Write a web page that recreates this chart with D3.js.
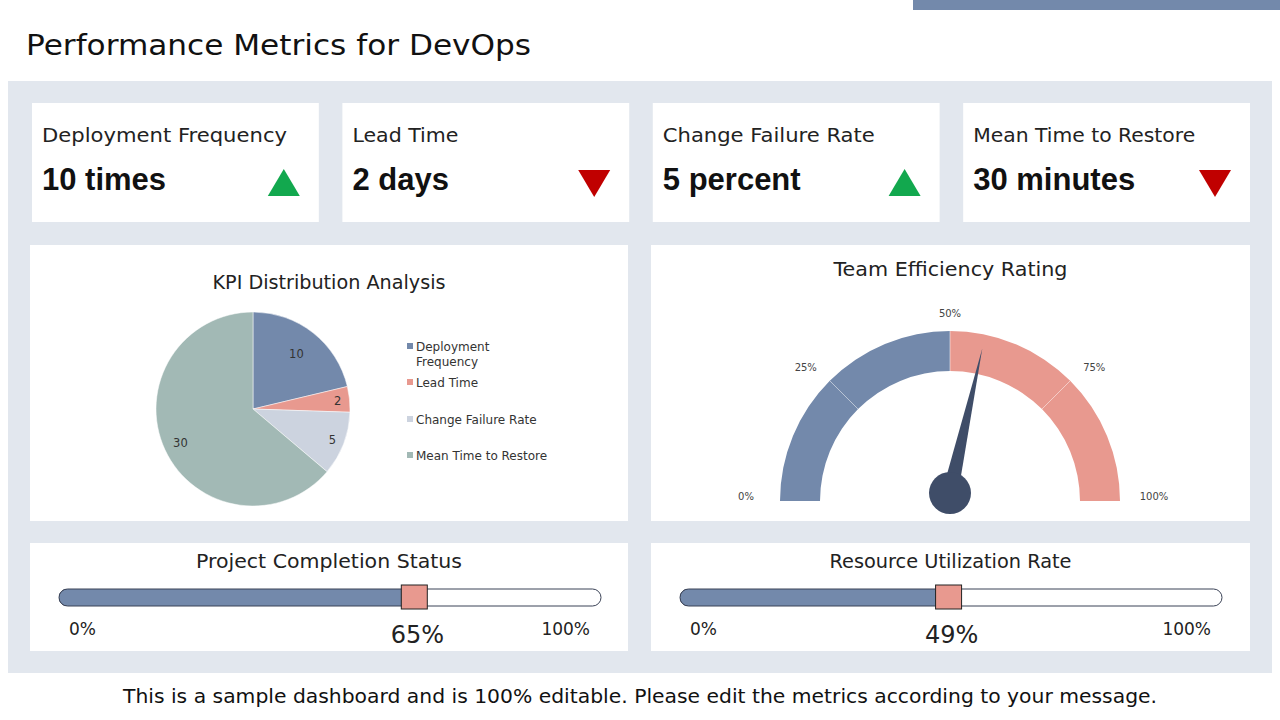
<!DOCTYPE html>
<html>
<head>
<meta charset="utf-8">
<script src="https://cdn.jsdelivr.net/npm/d3@7"></script>
<style>
  body { margin: 0; background: #fff; }
  text { font-family: "DejaVu Sans", sans-serif; }
</style>
</head>
<body>
<div id="chart"></div>
<script>
const kpiNames = ["Deployment Frequency", "Lead Time", "Change Failure Rate", "Mean Time to Restore"];
const kpiValues = [10, 2, 5, 30];
const kpiUnits = ["times", "days", "percent", "minutes"];
const kpiTrend = ["up", "down", "up", "down"];
const pieLegend = [["Deployment", "Frequency"], ["Lead Time"], ["Change Failure Rate"], ["Mean Time to Restore"]];
const gaugeTicks = [0, 25, 50, 75, 100];
const efficiency = 57;
const progressNames = ["Project Completion Status", "Resource Utilization Rate"];
const progressValues = [65, 49];

const colors = ["#7389ab", "#e8998f", "#ccd3df", "#a2b9b5"];
const dark = "#3f4d68";
const W = 1280, H = 720;

const svg = d3.select("#chart").append("svg")
    .attr("width", W).attr("height", H);

// header
svg.append("rect").attr("x", 913).attr("y", 0).attr("width", 367).attr("height", 10).attr("fill", "#7389ab");
svg.append("text").attr("x", 26).attr("y", 55)
    .attr("font-size", 29).attr("fill", "#111")
    .attr("textLength", 505).attr("lengthAdjust", "spacingAndGlyphs")
    .text("Performance Metrics for DevOps");

svg.append("rect").attr("x", 8).attr("y", 81).attr("width", 1264).attr("height", 592).attr("fill", "#e2e7ee");

// KPI cards
const cardX = d3.scaleBand().domain(d3.range(4)).range([32, 1250]).paddingInner(0.076).paddingOuter(0);
const labelLen = [245, 106, 212, 222];
const cards = svg.selectAll("g.card").data(kpiNames).join("g")
    .attr("class", "card")
    .attr("transform", (d, i) => `translate(${cardX(i)},103)`);
cards.append("rect").attr("width", cardX.bandwidth()).attr("height", 119).attr("fill", "#fff");
cards.append("text").attr("x", 10).attr("y", 39).attr("font-size", 20).attr("fill", "#222")
    .attr("textLength", (d, i) => labelLen[i]).attr("lengthAdjust", "spacingAndGlyphs")
    .text(d => d);
cards.append("text").attr("x", 10).attr("y", 87).attr("font-size", 31).attr("font-weight", "bold")
    .style("font-family", "'Liberation Sans', Arial, sans-serif").attr("fill", "#111")
    .text((d, i) => kpiValues[i] + " " + kpiUnits[i]);
cards.append("path")
    .attr("transform", `translate(${cardX.bandwidth() - 35},80)`)
    .attr("d", (d, i) => kpiTrend[i] === "up" ? "M-16,13L0,-14L16,13Z" : "M-16,-13L0,14L16,-13Z")
    .attr("fill", (d, i) => kpiTrend[i] === "up" ? "#12a84e" : "#c00000");

// panels
function panel(x, y, w, h, title, ty, tl) {
  const g = svg.append("g").attr("transform", `translate(${x},${y})`);
  g.append("rect").attr("width", w).attr("height", h).attr("fill", "#fff");
  g.append("text").attr("x", w / 2).attr("y", ty).attr("text-anchor", "middle")
      .attr("font-size", 20).attr("fill", "#222")
      .attr("textLength", tl).attr("lengthAdjust", "spacingAndGlyphs")
      .text(title);
  return g;
}

// pie
const pieG = panel(30, 245, 598, 276, "KPI Distribution Analysis", 44, 233);
const pie = d3.pie().sort(null).value(d => d)(kpiValues);
const arc = d3.arc().innerRadius(0).outerRadius(97);
const pc = pieG.append("g").attr("transform", "translate(223,164)");
pc.selectAll("path").data(pie).join("path")
    .attr("d", arc).attr("fill", (d, i) => colors[i]).attr("stroke", "#fff").attr("stroke-width", 0.5);
const labelR = [70, 85, 85, 80];
pc.selectAll("text").data(pie).join("text")
    .attr("transform", (d, i) => `translate(${d3.arc().innerRadius(labelR[i]).outerRadius(labelR[i]).centroid(d)})`)
    .attr("text-anchor", "middle").attr("dy", "0.35em")
    .attr("font-size", 11.5).attr("fill", "#333")
    .text(d => d.data);

const legY = [102, 138, 175, 211];
const leg = pieG.selectAll("g.leg").data(pieLegend).join("g")
    .attr("class", "leg")
    .attr("transform", (d, i) => `translate(377,${legY[i]})`);
leg.append("rect").attr("x", 0).attr("y", -4).attr("width", 6).attr("height", 6).attr("fill", (d, i) => colors[i]);
leg.selectAll("text").data(d => d).join("text")
    .attr("x", 9).attr("y", (d, j) => j * 15 + 4)
    .attr("font-size", 12).attr("fill", "#333").text(d => d);

// gauge
const gaugeG = panel(651, 245, 599, 276, "Team Efficiency Rating", 31, 234);
const gc = gaugeG.append("g").attr("transform", "translate(299,256)");
const ang = d3.scaleLinear().domain([0, 100]).range([-Math.PI / 2, Math.PI / 2]);
const gArc = d3.arc().innerRadius(130).outerRadius(170);
gc.append("path").attr("d", gArc({startAngle: ang(0), endAngle: ang(50)})).attr("fill", colors[0]);
gc.append("path").attr("d", gArc({startAngle: ang(50), endAngle: ang(100)})).attr("fill", colors[1]);
gc.selectAll("line.sep").data([25, 50, 75]).join("line")
    .attr("x1", d => 130 * Math.sin(ang(d))).attr("y1", d => -130 * Math.cos(ang(d)))
    .attr("x2", d => 170 * Math.sin(ang(d))).attr("y2", d => -170 * Math.cos(ang(d)))
    .attr("stroke", "#fff").attr("stroke-opacity", 0.5).attr("stroke-width", 1);
gc.selectAll("text").data(gaugeTicks).join("text")
    .attr("x", d => 204 * Math.sin(ang(d)))
    .attr("y", d => -183 * Math.cos(ang(d)) - 1)
    .attr("text-anchor", "middle").attr("font-size", 10).attr("fill", "#444")
    .text(d => d + "%");
const na = ang(efficiency);
const tipR = 148, baseW = 8;
const nx = Math.sin(na), ny = -Math.cos(na);
gc.append("path")
    .attr("d", `M${nx * tipR},${ny * tipR - 8}L${-ny * baseW},${nx * baseW - 8}L${ny * baseW},${-nx * baseW - 8}Z`)
    .attr("fill", dark);
gc.append("circle").attr("cx", 0).attr("cy", -8).attr("r", 21).attr("fill", dark);

// progress bars
const progLen = [266, 242];
progressNames.forEach((name, i) => {
  const px = i === 0 ? 30 : 651;
  const g = panel(px, 543, i === 0 ? 598 : 599, 108, name, 25, progLen[i]);
  const x = d3.scaleLinear().domain([0, 100]).range([29, 571]);
  g.append("rect").attr("x", x(0)).attr("y", 46).attr("width", x(100) - x(0)).attr("height", 17)
      .attr("rx", 8.5).attr("fill", "#fff").attr("stroke", "#3a4256").attr("stroke-width", 1);
  g.append("clipPath").attr("id", "clip" + i).append("rect")
      .attr("x", x(0)).attr("y", 46).attr("width", x(progressValues[i]) - x(0)).attr("height", 17);
  g.append("rect").attr("x", x(0)).attr("y", 46).attr("width", x(100) - x(0)).attr("height", 17)
      .attr("rx", 8.5).attr("fill", colors[0]).attr("stroke", "#3a4256").attr("clip-path", `url(#clip${i})`);
  g.append("rect").attr("x", x(progressValues[i]) - 10).attr("y", 42).attr("width", 26).attr("height", 24)
      .attr("fill", colors[1]).attr("stroke", "#222").attr("stroke-width", 1);
  g.append("text").attr("x", 39).attr("y", 92).attr("font-size", 17).attr("fill", "#222").text("0%");
  g.append("text").attr("x", 560).attr("y", 92).attr("text-anchor", "end").attr("font-size", 17).attr("fill", "#222").text("100%");
  g.append("text").attr("x", x(progressValues[i]) + 6).attr("y", 100).attr("text-anchor", "middle")
      .attr("font-size", 24).attr("fill", "#222").text(progressValues[i] + "%");
});

svg.append("text").attr("x", 640).attr("y", 703).attr("text-anchor", "middle")
    .attr("font-size", 20).attr("fill", "#111")
    .attr("textLength", 1034).attr("lengthAdjust", "spacingAndGlyphs")
    .text("This is a sample dashboard and is 100% editable. Please edit the metrics according to your message.");
</script>
</body>
</html>
